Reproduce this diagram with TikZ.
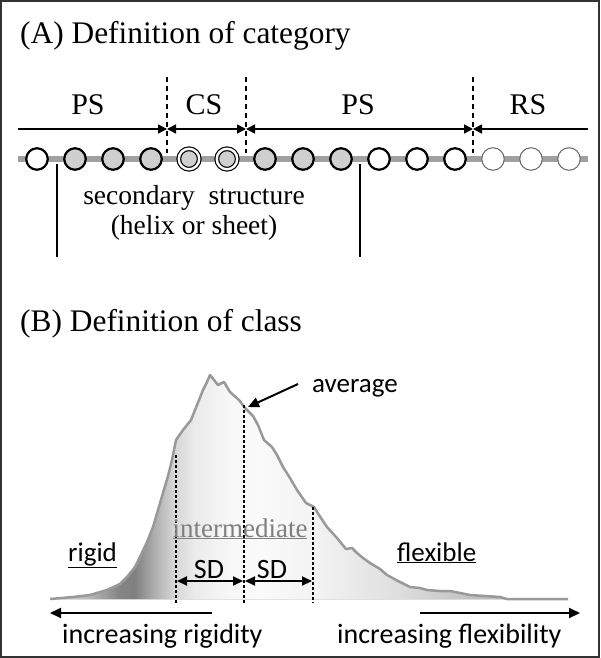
\documentclass[tikz,border=0pt]{standalone}
\usepackage{fontspec}
\setmainfont{Liberation Serif}
\newfontfamily\calfont{Carlito}
\usetikzlibrary{arrows.meta}
\pgfdeclarehorizontalshading{curveshade}{100bp}{rgb(0bp)=(0.82,0.82,0.82); rgb(25bp)=(0.82,0.82,0.82); rgb(28.6bp)=(0.72,0.72,0.72); rgb(31.5bp)=(0.52,0.52,0.52); rgb(33bp)=(0.50,0.50,0.50); rgb(34.9bp)=(0.68,0.68,0.68); rgb(36.8bp)=(0.84,0.84,0.84); rgb(38.8bp)=(0.92,0.92,0.92); rgb(42.2bp)=(0.97,0.97,0.97); rgb(45.1bp)=(0.98,0.98,0.98); rgb(50.9bp)=(0.95,0.95,0.95); rgb(58.7bp)=(0.87,0.87,0.87); rgb(65.5bp)=(0.76,0.76,0.76); rgb(75bp)=(0.66,0.66,0.66); rgb(100bp)=(0.66,0.66,0.66)}
\definecolor{chaingray}{HTML}{A0A0A0}
\definecolor{ballgray}{HTML}{CFCFCF}
\definecolor{curvegray}{HTML}{999999}
\definecolor{midgray}{HTML}{7F7F7F}
\tikzset{
  titletext/.style={font=\fontsize{31.4}{37}\selectfont, inner sep=0, anchor=base west},
  seglabel/.style={font=\fontsize{30}{36}\selectfont, inner sep=0, anchor=base},
  serifnote/.style={font=\fontsize{27.5}{33}\selectfont, inner sep=0, anchor=base},
  sanstext/.style={font=\calfont\fontsize{27}{32}\selectfont, inner sep=0},
  sdtext/.style={font=\calfont\fontsize{28}{33}\selectfont, inner sep=0, anchor=base},
  segarrow/.style={line width=1.5, -{Triangle[length=9,width=9]}},
  segboth/.style={line width=1.5, {Triangle[length=9,width=9]}-{Triangle[length=9,width=9]}},
  divider/.style={line width=1.5, dash pattern=on 5 off 4},
  chain/.style={line width=5.5, draw=chaingray},
  ball/.style={circle, minimum size=21.5, inner sep=0, line width=2.2, draw=black},
  plainball/.style={ball, fill=white},
  grayball/.style={ball, fill=ballgray},
  dblball/.style={circle, minimum size=20.5, inner sep=0, line width=1.2, draw=black, double=white, double distance=2.4, fill=ballgray},
  faintball/.style={circle, minimum size=22.5, inner sep=0, line width=1, draw=black!60, fill=white},
  marker/.style={line width=1.5},
  dotline/.style={line width=2.6, dash pattern=on 2.6 off 2.4},
  bigarrow/.style={line width=2, -{Triangle[length=11,width=10]}},
  sdarrow/.style={line width=2, {Triangle[length=10,width=9]}-{Triangle[length=10,width=9]}},
}
\begin{document}
\begin{tikzpicture}[x=1pt,y=-1pt]
\useasboundingbox (0,0) rectangle (600,658);
\draw[line width=2, draw=black!80] (1,1) rectangle (599,657);

% ---------- (A) ----------
\node[titletext] (titleA) at (20,44) {(A) Definition of category};

\coordinate (aL) at (18,129);
\coordinate (d1) at (167,129);
\coordinate (d2) at (246,129);
\coordinate (d3) at (473,129);
\coordinate (aR) at (588,129);
\coordinate (d1t) at (167,77); \coordinate (d1b) at (167,153);
\coordinate (d2t) at (246,77); \coordinate (d2b) at (246,153);
\coordinate (d3t) at (473,77); \coordinate (d3b) at (473,153);

\draw[divider] (d1t) -- (d1b);
\draw[divider] (d2t) -- (d2b);
\draw[divider] (d3t) -- (d3b);

\draw[segarrow] (aL) -- (d1);
\draw[segboth] (d1) -- (d2);
\draw[segboth] (d2) -- (d3);
\draw[segarrow] (aR) -- (d3);

\node[seglabel] (ps1) at (88,115) {PS};
\node[seglabel] (cs) at (204,115) {CS};
\node[seglabel] (ps2) at (358,115) {PS};
\node[seglabel] (rs) at (528,115) {RS};

\coordinate (chL) at (18,159);
\coordinate (chR) at (588,159);
\draw[chain] (chL) -- (chR);

\node[plainball] (b1) at (37,159) {};
\node[grayball] (b2) at (75,159) {};
\node[grayball] (b3) at (113,159) {};
\node[grayball] (b4) at (151,159) {};
\node[dblball] (b5) at (189,159) {};
\node[dblball] (b6) at (227,159) {};
\node[grayball] (b7) at (265,159) {};
\node[grayball] (b8) at (303,159) {};
\node[grayball] (b9) at (341,159) {};
\node[plainball] (b10) at (379,159) {};
\node[plainball] (b11) at (417,159) {};
\node[plainball] (b12) at (455,159) {};
\node[faintball] (b13) at (493,159) {};
\node[faintball] (b14) at (531,159) {};
\node[faintball] (b15) at (569,159) {};

\coordinate (m1t) at (57,164); \coordinate (m1b) at (57,257);
\coordinate (m2t) at (360,164); \coordinate (m2b) at (360,257);
\draw[marker] (m1t) -- (m1b);
\draw[marker] (m2t) -- (m2b);

\node[serifnote] (ss1) at (194,204) {secondary\hspace{0.25em} structure};
\node[serifnote] (ss2) at (194,234) {(helix or sheet)};

% ---------- (B) ----------
\node[titletext] (titleB) at (20,331) {(B) Definition of class};

\fill[shading=curveshade] (52,599) -- (73,597) -- (90,595) -- (107,590) -- (120,584) -- (127,577) -- (135,567) -- (140,557) -- (147,542) -- (153,527) -- (158,510) -- (163,493) -- (168,476) -- (172,460) -- (176,440) -- (183,430) -- (191,420) -- (195,410) -- (199,400) -- (203,390) -- (207,382) -- (210,375) -- (218,385) -- (224,382) -- (230,392) -- (239,400) -- (245,408) -- (253,416) -- (258,425) -- (264,440) -- (272,447) -- (277,455) -- (283,467) -- (290,478) -- (297,490) -- (306,503) -- (314,507) -- (319,515) -- (327,527) -- (337,538) -- (346,549) -- (352,548) -- (357,553) -- (363,558) -- (370,563) -- (380,569) -- (387,575) -- (398,581) -- (410,587) -- (420,588) -- (427,590) -- (440,591) -- (450,591) -- (460,593) -- (470,595) -- (485,596) -- (500,597) -- (507,599) -- (568,599) -- cycle;
\draw[line width=2.5, draw=curvegray, line join=round] (50,599) -- (73,597) -- (90,595) -- (107,590) -- (120,584) -- (127,577) -- (135,567) -- (140,557) -- (147,542) -- (153,527) -- (158,510) -- (163,493) -- (168,476) -- (172,460) -- (176,440) -- (183,430) -- (191,420) -- (195,410) -- (199,400) -- (203,390) -- (207,382) -- (210,375) -- (218,385) -- (224,382) -- (230,392) -- (239,400) -- (245,408) -- (253,416) -- (258,425) -- (264,440) -- (272,447) -- (277,455) -- (283,467) -- (290,478) -- (297,490) -- (306,503) -- (314,507) -- (319,515) -- (327,527) -- (337,538) -- (346,549) -- (352,548) -- (357,553) -- (363,558) -- (370,563) -- (380,569) -- (387,575) -- (398,581) -- (410,587) -- (420,588) -- (427,590) -- (440,591) -- (450,591) -- (460,593) -- (470,595) -- (485,596) -- (500,597) -- (507,599) -- (568,599);

\coordinate (meanT) at (244,405); \coordinate (meanB) at (244,603);
\coordinate (sdLT) at (176,455); \coordinate (sdLB) at (176,603);
\coordinate (sdRT) at (313,507); \coordinate (sdRB) at (313,603);
\draw[dotline] (meanT) -- (meanB);
\draw[dotline] (sdLT) -- (sdLB);
\draw[dotline] (sdRT) -- (sdRB);

\node[sanstext, anchor=base west] (avg) at (312,392) {average};
\coordinate (avgTail) at (298,384);
\coordinate (avgTip) at (248,407);
\draw[line width=2, -{Triangle[length=11,width=10]}] (avgTail) -- (avgTip);

\node[serifnote, font=\fontsize{27}{32}\selectfont, text=midgray] (inter) at (240,537) {\underline{intermediate}};
\node[sanstext, anchor=base west] (rigid) at (68,561) {\underline{rigid}};
\node[sanstext, anchor=base west] (flex) at (397,561) {\underline{flexible}};

\coordinate (sdA) at (177,581); \coordinate (sdB) at (243,581);
\coordinate (sdC) at (245,581); \coordinate (sdD) at (312,581);
\draw[sdarrow] (sdA) -- (sdB);
\draw[sdarrow] (sdC) -- (sdD);
\node[sdtext] (sd1) at (209,578) {SD};
\node[sdtext] (sd2) at (272,578) {SD};

\coordinate (rigS) at (212,613); \coordinate (rigE) at (50,613);
\coordinate (flexS) at (420,613); \coordinate (flexE) at (580,613);
\draw[bigarrow] (rigS) -- (rigE);
\draw[bigarrow] (flexS) -- (flexE);

\node[sanstext, anchor=base west, font=\calfont\fontsize{28}{33}\selectfont] (incR) at (62,643) {increasing rigidity};
\node[sanstext, anchor=base west, font=\calfont\fontsize{28}{33}\selectfont] (incF) at (337,643) {increasing flexibility};
\end{tikzpicture}
\end{document}
